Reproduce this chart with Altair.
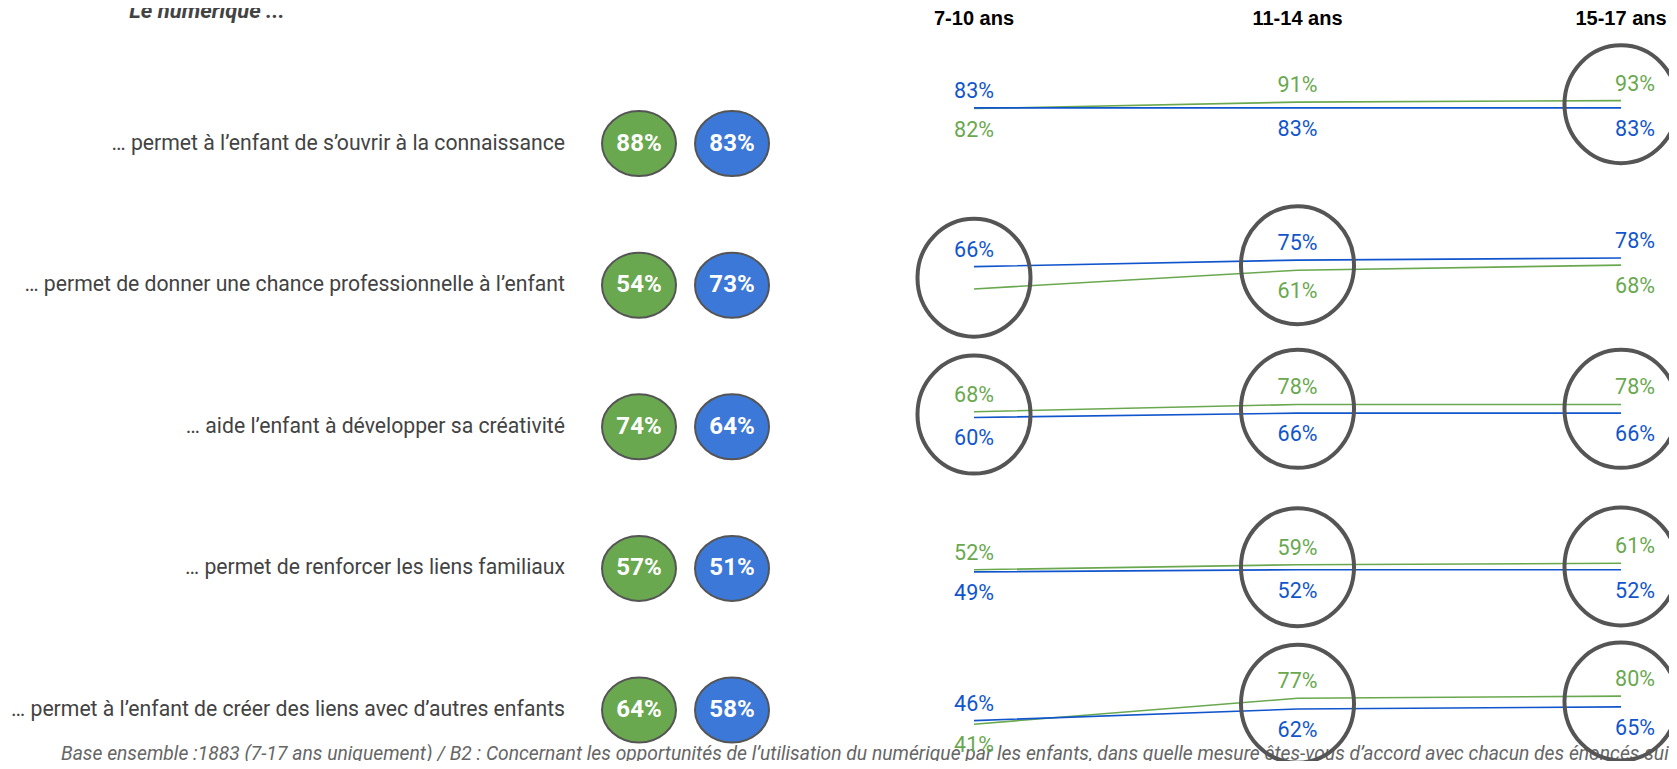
import altair as alt
import pandas as pd

# ---------------- données ----------------
TITRE = "Le numérique ..."
SOURCE = ("Base ensemble :1883 (7-17 ans uniquement) / B2 : Concernant les opportunités de "
          "l’utilisation du numérique par les enfants, dans quelle mesure êtes-vous d’accord "
          "avec chacun des énoncés suivants ?")

ENONCES = [
    "… permet à l’enfant de s’ouvrir à la connaissance",
    "… permet de donner une chance professionnelle à l’enfant",
    "… aide l’enfant à développer sa créativité",
    "… permet de renforcer les liens familiaux",
    "… permet à l’enfant de créer des liens avec d’autres enfants",
]
SERIES = ["Série verte", "Série bleue"]
ENSEMBLE_VERT = [88, 54, 74, 57, 64]
ENSEMBLE_BLEU = [83, 73, 64, 51, 58]

AGES = ["7-10 ans", "11-14 ans", "15-17 ans"]
VERT_PAR_AGE = [[82, 91, 93], [35, 61, 68], [68, 78, 78], [52, 59, 61], [41, 77, 80]]
BLEU_PAR_AGE = [[83, 83, 83], [66, 75, 78], [60, 66, 66], [49, 52, 52], [46, 62, 65]]

# cellules entourées (par énoncé)
CERCLES = [
    ["15-17 ans"],
    ["7-10 ans", "11-14 ans"],
    ["7-10 ans", "11-14 ans", "15-17 ans"],
    ["11-14 ans", "15-17 ans"],
    ["11-14 ans", "15-17 ans"],
]
# étiquette non affichée dans l'original
ETIQUETTES_ABSENTES = [(1, "7-10 ans", "Série verte")]

# ---------------- styles ----------------
W, H = 1661, 753
VERT_BULLE, BLEU_BULLE = "#6aa84f", "#3c78d8"
VERT_LIGNE, BLEU_LIGNE = "#6aa84f", "#1155cc"
ECART = 203.5  # écart entre énoncés, en points de pourcentage, dans la zone des courbes

ELLIPSE_BULLE = "M -1 0 A 1 0.878 0 1 1 1 0 A 1 0.878 0 1 1 -1 0 Z"
ELLIPSE_CERCLE = "M -0.958 0 A 0.958 1 0 1 1 0.958 0 A 0.958 1 0 1 1 -0.958 0 Z"

# ---------------- tables ----------------
df_enonces = pd.DataFrame({"rang": list(range(len(ENONCES))), "enonce": ENONCES})

bulles = []
for i in range(len(ENONCES)):
    for s, v in zip(SERIES, [ENSEMBLE_VERT[i], ENSEMBLE_BLEU[i]]):
        bulles.append({"rang": i, "serie": s, "valeur": v, "texte": f"{v}%"})
df_bulles = pd.DataFrame(bulles)

lignes = []
for i in range(len(ENONCES)):
    for j, age in enumerate(AGES):
        vv, vb = VERT_PAR_AGE[i][j], BLEU_PAR_AGE[i][j]
        for s, v, autre in [(SERIES[0], vv, vb), (SERIES[1], vb, vv)]:
            lignes.append({
                "rang": i, "age": age, "ordre": j, "serie": s, "valeur": v,
                "texte": f"{v}%",
                "pos": "haut" if v >= autre else "bas",
                "afficher": (i, age, s) not in ETIQUETTES_ABSENTES,
            })
df_lignes = pd.DataFrame(lignes)

cercles = []
for i, ages in enumerate(CERCLES):
    for age in ages:
        j = AGES.index(age)
        cercles.append({"rang": i, "age": age,
                        "moyenne": (VERT_PAR_AGE[i][j] + BLEU_PAR_AGE[i][j]) / 2})
df_cercles = pd.DataFrame(cercles)

df_ages = pd.DataFrame({"age": AGES})

# ---------------- échelles ----------------
sc_rang = alt.Scale(domain=[0, 4], range=[135.6, 702], nice=False, zero=False)
sc_courbe = alt.Scale(domain=[0, 4 * ECART], range=[159.6, 745.7], nice=False, zero=False)
sc_age = alt.Scale(type="point", domain=AGES, range=[966, 1613], padding=0)
sc_serie_x = alt.Scale(type="point", domain=SERIES, range=[631, 724], padding=0)
sc_fill = alt.Scale(domain=SERIES, range=[VERT_BULLE, BLEU_BULLE])
sc_color = alt.Scale(domain=SERIES, range=[VERT_LIGNE, BLEU_LIGNE])

# ---------------- calques ----------------
titre = alt.Chart(pd.DataFrame({"t": [TITRE]})).mark_text(
    font="Roboto", fontSize=22, fontStyle="italic", fontWeight="bold",
    color="#434343", align="center", baseline="alphabetic"
).encode(text="t:N", x=alt.value(199), y=alt.value(10))

source = alt.Chart(pd.DataFrame({"t": [SOURCE]})).mark_text(
    font="Roboto", fontSize=19.3, fontStyle="italic", color="#666666",
    align="left", baseline="middle"
).encode(text="t:N", x=alt.value(53), y=alt.value(746))

libelles = alt.Chart(df_enonces).mark_text(
    font="Roboto", fontSize=21.2, color="#434343", align="right", baseline="middle"
).encode(
    text="enonce:N", x=alt.value(557),
    y=alt.Y("rang:Q", scale=sc_rang, axis=None),
)

bulles_l = alt.Chart(df_bulles).mark_point(
    shape=ELLIPSE_BULLE, size=5476, filled=True, opacity=1,
    stroke="#555555", strokeWidth=2, strokeOpacity=1
).encode(
    x=alt.X("serie:N", scale=sc_serie_x, axis=None),
    y=alt.Y("rang:Q", scale=sc_rang, axis=None),
    fill=alt.Fill("serie:N", scale=sc_fill, legend=None),
)

bulles_t = alt.Chart(df_bulles).mark_text(
    font="Roboto", fontSize=24, fontWeight="bold", color="white",
    align="center", baseline="middle"
).encode(
    text="texte:N",
    x=alt.X("serie:N", scale=sc_serie_x, axis=None),
    y=alt.Y("rang:Q", scale=sc_rang, axis=None),
)

entetes = alt.Chart(df_ages).mark_text(
    font="Liberation Sans", fontSize=20, fontWeight="bold", color="black",
    align="center", baseline="middle"
).encode(
    text="age:N", x=alt.X("age:N", scale=sc_age, axis=None), y=alt.value(11)
)

courbes = alt.Chart(df_lignes).transform_calculate(
    yl=f"datum.rang * {ECART} - datum.valeur"
).mark_line(strokeWidth=1.6).encode(
    x=alt.X("age:N", scale=sc_age, axis=None),
    y=alt.Y("yl:Q", scale=sc_courbe, axis=None),
    color=alt.Color("serie:N", scale=sc_color, legend=None),
    detail="rang:N",
    order="ordre:Q",
)

anneaux = alt.Chart(df_cercles).transform_calculate(
    yl=f"datum.rang * {ECART} - datum.moyenne"
).mark_point(
    shape=ELLIPSE_CERCLE, size=13924, filled=False, opacity=1,
    color="#555555", strokeWidth=4
).encode(
    x=alt.X("age:N", scale=sc_age, axis=None),
    y=alt.Y("yl:Q", scale=sc_courbe, axis=None),
)

etiquettes = []
for pos, dy in [("haut", -16), ("bas", 22)]:
    for fin, dx in [(False, 0), (True, 14)]:
        cond = (f"datum.afficher && datum.pos == '{pos}' && "
                + ("datum.age == '15-17 ans'" if fin else "datum.age != '15-17 ans'"))
        etiquettes.append(
            alt.Chart(df_lignes).transform_filter(cond).transform_calculate(
                yl=f"datum.rang * {ECART} - datum.valeur"
            ).mark_text(
                font="Roboto", fontSize=21.5, align="center", baseline="middle", dy=dy, dx=dx
            ).encode(
                text="texte:N",
                x=alt.X("age:N", scale=sc_age, axis=None),
                y=alt.Y("yl:Q", scale=sc_courbe, axis=None),
                color=alt.Color("serie:N", scale=sc_color, legend=None),
            )
        )

chart = alt.layer(
    titre, source, libelles, bulles_l, bulles_t, entetes, courbes, *etiquettes, anneaux
).resolve_scale(
    x="independent", y="independent", color="independent", fill="independent"
).properties(
    width=W, height=H, padding=0,
    autosize=alt.AutoSizeParams(type="none"),
    background="white",
).configure_view(stroke=None)

chart.save("out.html", embed_options={"renderer": "svg", "actions": False})
